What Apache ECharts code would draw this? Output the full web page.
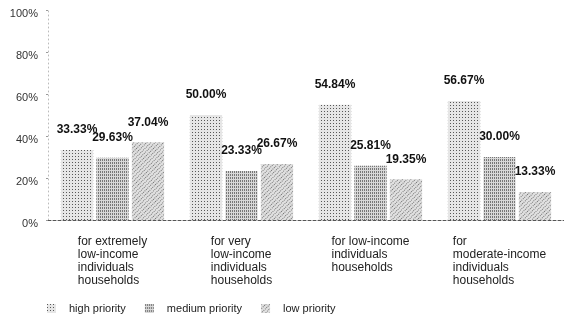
<!DOCTYPE html>
<html>
<head>
<meta charset="utf-8">
<script src="https://cdn.jsdelivr.net/npm/echarts@6/dist/echarts.min.js"></script>
<style>
  html, body { margin: 0; padding: 0; background: #fff; }
  #chart { width: 564px; height: 322px; }
</style>
</head>
<body>
<div id="chart"></div>
<script>
// Housing priority by income group (percent of respondents)
const categories = [
  'for extremely\nlow-income\nindividuals\nhouseholds',
  'for very\nlow-income\nindividuals\nhouseholds',
  'for low-income\nindividuals\nhouseholds',
  'for\nmoderate-income\nindividuals\nhouseholds'
];
const highPriority = [33.33, 50.00, 54.84, 56.67];
const mediumPriority = [29.63, 23.33, 25.81, 30.00];
const lowPriority = [37.04, 26.67, 19.35, 13.33];
const seriesNames = ['high priority', 'medium priority', 'low priority'];
const yTicks = [0, 20, 40, 60, 80, 100];

const FONT = '"Liberation Sans", Arial, sans-serif';

// stippled fills for the bars
const fills = [
  { color: '#e6e6e6', decal: { symbol: 'rect', symbolSize: 1, dashArrayX: [[1, 2]], dashArrayY: [1, 2], color: 'rgba(40,40,40,0.75)' } },
  { color: '#d8d8d8', decal: { symbol: 'rect', symbolSize: 1, dashArrayX: [[1, 1]], dashArrayY: [2, 1], color: 'rgba(40,40,40,0.55)' } },
  { color: '#e0e0e0', decal: { symbol: 'rect', symbolSize: 1, dashArrayX: [[1, 2]], dashArrayY: [1, 1], rotation: Math.PI / 4, color: 'rgba(40,40,40,0.6)' } }
];

const values = [highPriority, mediumPriority, lowPriority];

const chart = echarts.init(document.getElementById('chart'), null, { renderer: 'canvas' });
chart.setOption({
  animation: false,
  textStyle: { fontFamily: FONT },
  grid: { left: 48, right: -13, top: 10, bottom: 102, containLabel: false },
  legend: {
    data: seriesNames,
    left: 42,
    top: 298,
    icon: 'rect',
    itemWidth: 9,
    itemHeight: 9,
    itemGap: 19,
    textStyle: { fontSize: 11, color: '#222', fontFamily: FONT, padding: [0, 0, 0, 8] }
  },
  xAxis: {
    type: 'category',
    data: categories,
    axisLine: { show: true, lineStyle: { color: '#555', type: [3, 2], width: 1 } },
    axisTick: { show: false },
    axisLabel: {
      interval: 0,
      margin: 15,
      formatter: v => v.split('\n').map(s => '{t|' + s + '}').join('\n'),
      rich: {
        t: { align: 'left', fontSize: 12, lineHeight: 13, color: '#222', fontFamily: FONT }
      }
    }
  },
  yAxis: {
    type: 'value',
    min: yTicks[0],
    max: yTicks[yTicks.length - 1],
    interval: yTicks[1] - yTicks[0],
    axisLine: { show: true, lineStyle: { color: '#bbb', type: [1, 3] } },
    axisTick: { show: true, length: 2, lineStyle: { color: '#999' } },
    splitLine: { show: false },
    axisLabel: {
      formatter: '{value}%',
      margin: 10,
      fontSize: 11,
      color: '#333',
      verticalAlign: 'top',
      lineHeight: 8
    }
  },
  series: seriesNames.map((name, i) => ({
    name,
    type: 'bar',
    data: values[i],
    barGap: '10%',
    barCategoryGap: '20%',
    itemStyle: { color: fills[i].color, decal: fills[i].decal },
    label: {
      show: true,
      position: 'top',
      distance: 14,
      fontSize: 12,
      fontWeight: 'bold',
      color: '#111',
      fontFamily: FONT,
      formatter: p => p.value.toFixed(2) + '%'
    }
  }))
});
</script>
</body>
</html>
